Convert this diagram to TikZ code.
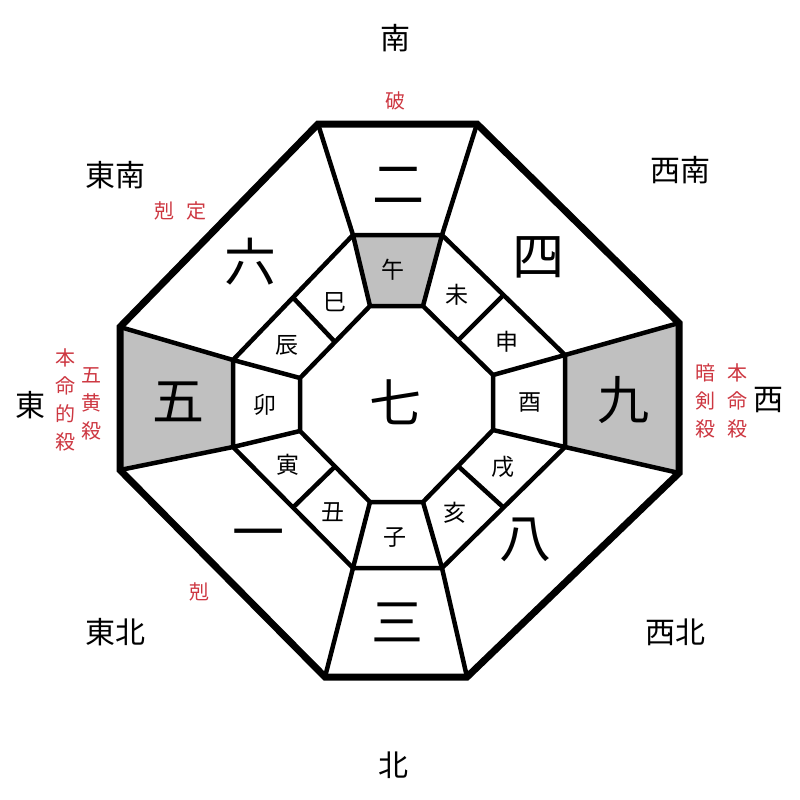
\documentclass[tikz,border=0pt]{standalone}
\usepackage{fontspec}
\newfontfamily\cjk{Noto Sans CJK JP}
\usetikzlibrary{calc}
\definecolor{cellgray}{RGB}{192,192,192}
\definecolor{redtxt}{RGB}{205,55,65}
\tikzset{
  outline/.style={line width=7pt, line join=miter},
  spoke/.style={line width=4.5pt},
  dir/.style={font=\cjk\fontsize{30}{30}\selectfont, inner sep=0pt},
  num/.style={font=\cjk\fontsize{52}{52}\selectfont, inner sep=0pt},
  branch/.style={font=\cjk\fontsize{23}{23}\selectfont, inner sep=0pt},
  note/.style={font=\cjk\fontsize{20}{20}\selectfont, text=redtxt, inner sep=0pt},
  notecol/.style={font=\cjk\fontsize{20}{28}\selectfont, text=redtxt, inner sep=0pt, align=center},
}
\begin{document}
\begin{tikzpicture}[x=1pt,y=-1pt]
\useasboundingbox (0,0) rectangle (800,800);
% outer octagon
\coordinate (O1) at (318,124); \coordinate (O2) at (477,124);
\coordinate (O3) at (679,323); \coordinate (O4) at (679,473);
\coordinate (O5) at (467,677); \coordinate (O6) at (325,677);
\coordinate (O7) at (120,470); \coordinate (O8) at (120,327);
% middle octagon
\coordinate (M1) at (353,235); \coordinate (M2) at (442,235);
\coordinate (M3) at (565,355); \coordinate (M4) at (565,447);
\coordinate (M5) at (442,568); \coordinate (M6) at (353,568);
\coordinate (M7) at (233,447); \coordinate (M8) at (233,360);
% inner octagon
\coordinate (I1) at (370,306); \coordinate (I2) at (423,306);
\coordinate (I3) at (493,375); \coordinate (I4) at (493,430);
\coordinate (I5) at (423,502); \coordinate (I6) at (370,502);
\coordinate (I7) at (300,431); \coordinate (I8) at (300,378);
% gray cells
\fill[cellgray] (M1) -- (M2) -- (I2) -- (I1) -- cycle;
\fill[cellgray] (O8) -- (M8) -- (M7) -- (O7) -- cycle;
\fill[cellgray] (M3) -- (O3) -- (O4) -- (M4) -- cycle;
% spokes outer-middle
\foreach \k in {1,...,8} {\draw[spoke] (O\k) -- (M\k);}
% spokes middle-inner
\foreach \k in {1,...,8} {\draw[spoke] (M\k) -- (I\k);}
% branch dividers on diagonals
\draw[spoke] ($(I2)!0.5!(I3)$) -- ($(M2)!0.5!(M3)$);
\draw[spoke] ($(I4)!0.5!(I5)$) -- ($(M4)!0.5!(M5)$);
\draw[spoke] ($(I6)!0.5!(I7)$) -- ($(M6)!0.5!(M7)$);
\draw[spoke] ($(I8)!0.5!(I1)$) -- ($(M8)!0.5!(M1)$);
% octagons
\draw[spoke] (M1) -- (M2) -- (M3) -- (M4) -- (M5) -- (M6) -- (M7) -- (M8) -- cycle;
\draw[spoke] (I1) -- (I2) -- (I3) -- (I4) -- (I5) -- (I6) -- (I7) -- (I8) -- cycle;
\draw[outline] (O1) -- (O2) -- (O3) -- (O4) -- (O5) -- (O6) -- (O7) -- (O8) -- cycle;
% directions
\node[dir] (south) at (395,38) {南};
\node[dir] (se) at (115,175) {東南};
\node[dir] (sw) at (680,170) {西南};
\node[dir] (east) at (30,405) {東};
\node[dir] (west) at (768,400) {西};
\node[dir] (ne) at (115,632) {東北};
\node[dir] (nw) at (675,632) {西北};
\node[dir] (north) at (393,765) {北};
% red notes
\node[note] (ha) at (395,101) {破};
\node[note] (kokutei) at (180,211) {剋\hspace{0.6em}定};
\node[note] (koku) at (199,592) {剋};
\node[notecol] (honmeiteki) at (65,400) {本\\命\\的\\殺};
\node[notecol] (gooh) at (91,404) {五\\黄\\殺};
\node[notecol] (anken) at (705,401) {暗\\剣\\殺};
\node[notecol] (honmei) at (737,401) {本\\命\\殺};
% numbers
\node[num] (n2) at (398,185) {二};
\node[num] (n4) at (538,257) {四};
\node[num] (n9) at (623,400) {九};
\node[num] (n8) at (525,540) {八};
\node[num] (n3) at (397,622) {三};
\node[num] (n1) at (258,540) {一};
\node[num] (n5) at (178,402) {五};
\node[num] (n6) at (250,262) {六};
\node[num] (n7) at (395,402) {七};
% branches
\node[branch] (b1) at (393,270) {午};
\node[branch] (b2) at (457,295) {未};
\node[branch] (b3) at (507,342) {申};
\node[branch] (b4) at (530,402) {酉};
\node[branch] (b5) at (503,467) {戌};
\node[branch] (b6) at (455,513) {亥};
\node[branch] (b7) at (395,538) {子};
\node[branch] (b8) at (333,512) {丑};
\node[branch] (b9) at (288,465) {寅};
\node[branch] (b10) at (265,405) {卯};
\node[branch] (b11) at (287,345) {辰};
\node[branch] (b12) at (335,302) {巳};
\end{tikzpicture}
\end{document}
